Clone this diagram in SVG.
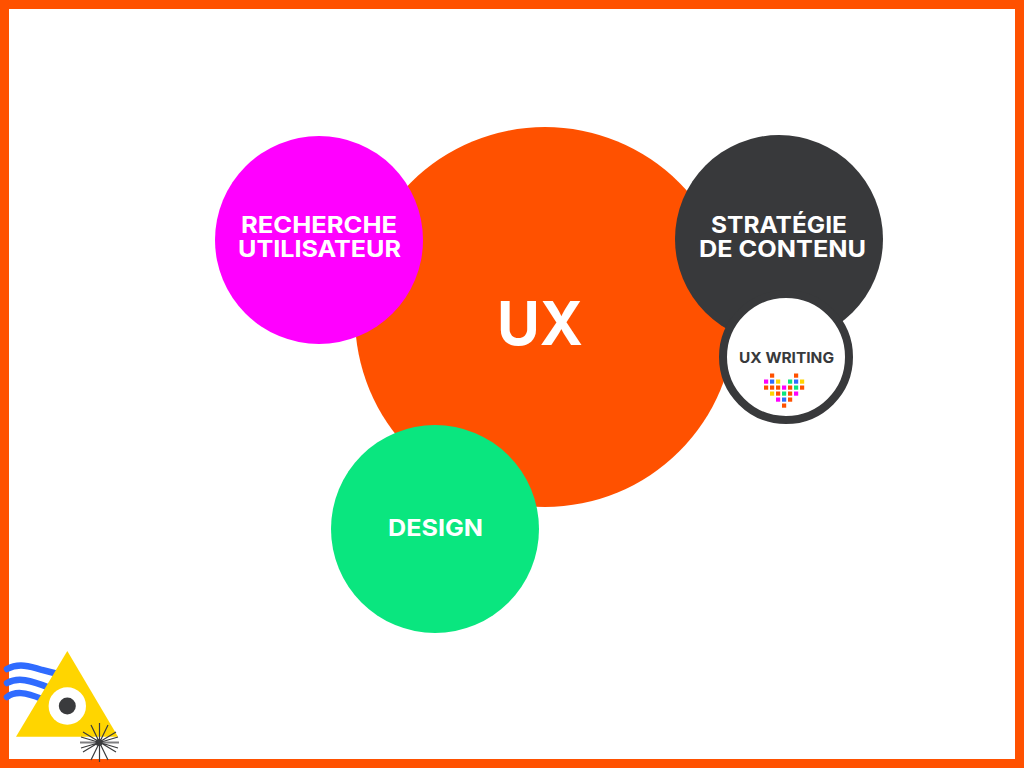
<svg xmlns="http://www.w3.org/2000/svg" width="1024" height="768" viewBox="0 0 1024 768">
<style>
text{font-family:"Inter","Open Sans","Liberation Sans",sans-serif;font-weight:700;fill:#fff;text-anchor:middle}
.o{fill:#ff5100}.m{fill:#f0f}.b{fill:#2f6bff}.y{fill:#ffd500}.g{fill:#0ae67f}
.w{fill:none;stroke:#2f6bff;stroke-width:6.500;stroke-linecap:round}
.r{stroke:#3a3b3d;stroke-width:1.200;fill:none}
</style>
<defs><rect id="p" width="4.200" height="4.200"/></defs>
<rect x="4.500" y="4.500" width="1015" height="759" fill="#fff" stroke="#ff5100" stroke-width="9"/>
<g id="connectors"/>
<g id="ux"><circle cx="545" cy="317" r="190" fill="#ff5100"/><text x="540" y="345" font-size="60" textLength="86" lengthAdjust="spacingAndGlyphs">UX</text></g>
<g id="recherche"><circle cx="319" cy="240" r="104" fill="#f0f"/><text font-size="23"><tspan x="319" y="233" textLength="156" lengthAdjust="spacingAndGlyphs">RECHERCHE</tspan><tspan x="319.500" y="257" textLength="163" lengthAdjust="spacingAndGlyphs">UTILISATEUR</tspan></text></g>
<g id="strategie"><circle cx="779" cy="239" r="104" fill="#38393b"/><text font-size="23"><tspan x="779" y="233" textLength="136" lengthAdjust="spacingAndGlyphs">STRATÉGIE</tspan><tspan x="782.500" y="257" textLength="167" lengthAdjust="spacingAndGlyphs">DE CONTENU</tspan></text></g>
<g id="design"><circle cx="435" cy="529" r="104" fill="#0ae67f"/><text x="435.500" y="536" font-size="23" textLength="95" lengthAdjust="spacingAndGlyphs">DESIGN</text></g>
<g id="uxwriting"><circle cx="786" cy="357" r="63" fill="#fff" stroke="#38393b" stroke-width="8"/><text x="786.500" y="363" font-size="15" textLength="95" lengthAdjust="spacingAndGlyphs" style="fill:#38393b">UX WRITING</text>
<use href="#p" x="770" y="373.500" class="o"/><use href="#p" x="794" y="373.500" class="o"/>
<use href="#p" x="764" y="379.500" class="m"/><use href="#p" x="770" y="379.500" class="b"/><use href="#p" x="776" y="379.500" class="y"/><use href="#p" x="788" y="379.500" class="g"/><use href="#p" x="794" y="379.500" class="b"/><use href="#p" x="800" y="379.500" class="y"/>
<use href="#p" x="764" y="385.500" class="o"/><use href="#p" x="770" y="385.500" class="o"/><use href="#p" x="776" y="385.500" class="o"/><use href="#p" x="782" y="385.500" class="m"/><use href="#p" x="788" y="385.500" class="o"/><use href="#p" x="794" y="385.500" class="g"/><use href="#p" x="800" y="385.500" class="o"/>
<use href="#p" x="770" y="391.500" class="y"/><use href="#p" x="776" y="391.500" class="o"/><use href="#p" x="782" y="391.500" class="g"/><use href="#p" x="788" y="391.500" class="o"/><use href="#p" x="794" y="391.500" class="m"/>
<use href="#p" x="776" y="397.500" class="m"/><use href="#p" x="782" y="397.500" class="b"/><use href="#p" x="788" y="397.500" class="o"/>
<use href="#p" x="782" y="403.500" class="o"/>
</g>
<g id="logo">
<path class="w" d="M7 669C18 663 30 666 42 670Q50 672 58 674"/>
<path class="w" d="M7 683C18 677 30 680 50 688"/>
<path class="w" d="M7 697C15 691 25 692 42 699"/>
<polygon points="67.300,651 118,736.700 16,736.700" fill="#ffd500"/>
<circle cx="67.300" cy="706" r="18.700" fill="#fff"/><circle cx="67.300" cy="706" r="8.500" fill="#3a3b3d"/>
<circle cx="99" cy="742.500" r="3.500" fill="#3a3b3d"/>
<path class="r" d="M80 742.500H119" stroke-opacity=".65" style="stroke-width:2"/>
<path class="r" d="M99.500 723V762M91 725L108 760M108 725L91 760M83 732L116 752M116 732L83 752M81 737L118 748M118 737L81 748"/>
</g>
</svg>
